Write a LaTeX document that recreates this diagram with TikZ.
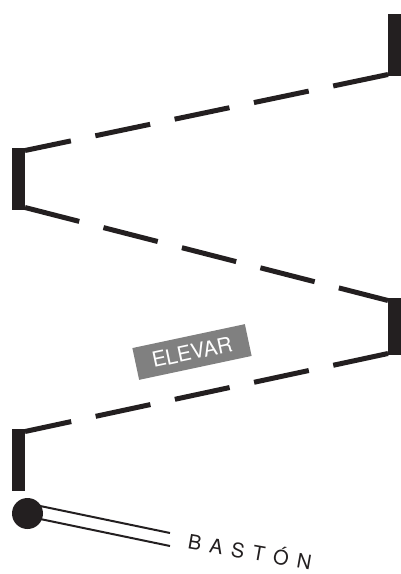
\documentclass[tikz,border=0pt]{standalone}
\usepackage{fontspec}
\setmainfont{TeX Gyre Heros}
\definecolor{ink}{HTML}{231F20}
\definecolor{boxgray}{HTML}{808080}
\tikzset{
  barbox/.style={fill=ink, draw=none, rectangle, inner sep=0pt, minimum width=13pt, minimum height=62pt},
  zig/.style={draw=ink, line width=5pt, dash pattern=on 56pt off 25pt},
  cane/.style={draw=ink, line width=2pt},
  labelbox/.style={fill=boxgray, text=white, inner sep=0pt, minimum width=115pt, minimum height=32.5pt, font=\fontsize{21}{24}\selectfont},
  canelabel/.style={text=ink, inner sep=0pt, font=\fontsize{20}{23}\selectfont}
}
\begin{document}
\begin{tikzpicture}[x=1pt, y=-1pt]
\useasboundingbox (0,0) rectangle (401,574);
% bars
\node[barbox] (b1) at (394.5,45) {};
\node[barbox] (b2) at (18.5,179) {};
\node[barbox, minimum height=57pt] (b3) at (394.5,326.5) {};
\node[barbox] (b4) at (18.5,460) {};
% connection points
\coordinate (r1) at (388,74.5);
\coordinate (l1) at (25,150.5);
\coordinate (l2) at (25,207.5);
\coordinate (r2) at (388,300.5);
\coordinate (r3) at (388,353.5);
\coordinate (l3) at (25,431.5);
% dashed zigzag
\draw[zig] (r1) -- (l1);
\draw[zig] (l2) -- (r2);
\draw[zig] (r3) -- (l3);
% label
\node[labelbox, rotate=12] (elevar) at (192,352) {ELEVAR};
% cane
\coordinate (c1) at (33,504.5);
\coordinate (c2) at (170,533);
\coordinate (c3) at (33,517.5);
\coordinate (c4) at (170,546);
\draw[cane] (c1) -- (c2);
\draw[cane] (c3) -- (c4);
\node[circle, fill=ink, inner sep=0pt, minimum size=31pt] (ball) at (27.5,513.5) {};
\node[canelabel, anchor=base west, rotate=-10] (baston) at (187,548.5) {B\kern8.5pt A\kern8.5pt S\kern8.5pt T\kern8.5pt Ó\kern8.5pt N};
\end{tikzpicture}
\end{document}
